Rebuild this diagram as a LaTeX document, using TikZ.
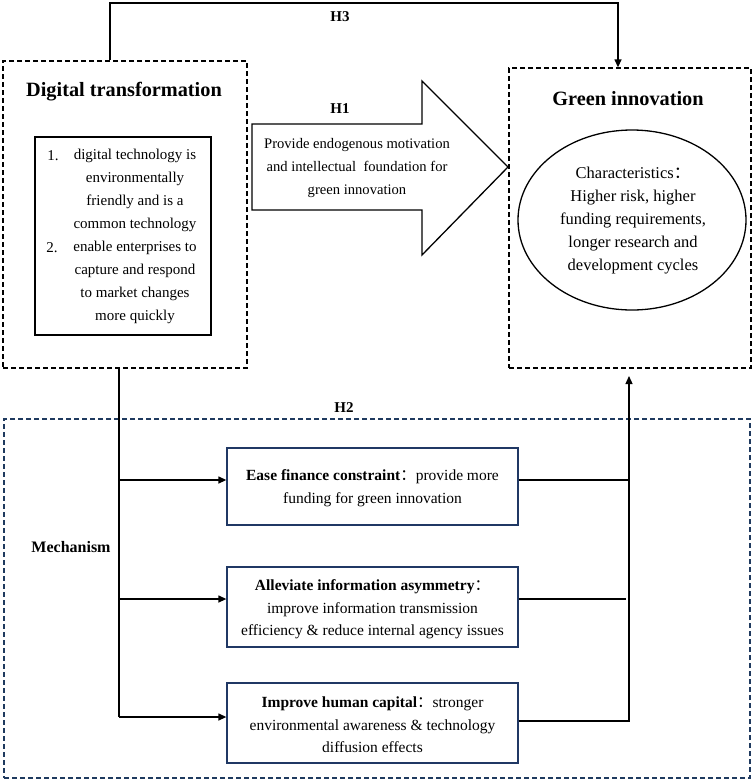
\documentclass[tikz,border=0pt]{standalone}
\usepackage{fontspec}
\setmainfont{Liberation Serif}
\newfontfamily\cjk{Noto Sans CJK SC}
\usetikzlibrary{arrows.meta,shapes.geometric}
\definecolor{navy}{HTML}{203864}
\definecolor{dashnavy}{HTML}{1F3A5F}
\newcommand{\fwc}{{\cjk ：}}
\begin{document}
\begin{tikzpicture}[x=1pt,y=-1pt,
  dashbox/.style={draw, line width=1.3pt, dash pattern=on 5pt off 3pt, inner sep=0pt},
  bluedash/.style={draw=dashnavy, line width=1.3pt, dash pattern=on 5pt off 3pt, inner sep=0pt},
  plainbox/.style={draw, line width=1.3pt, inner sep=0pt},
  mechbox/.style={draw=navy, line width=1.3pt, inner sep=0pt, minimum width=291pt},
  title/.style={font=\fontsize{20.3}{24}\selectfont\bfseries, inner sep=0pt},
  body/.style={font=\fontsize{15}{23}\selectfont, align=center, inner sep=0pt},
  hlabel/.style={font=\fontsize{15}{17}\selectfont\bfseries, inner sep=0pt},
  conn/.style={line width=1.3pt},
  arr/.style={line width=1.3pt, -{Triangle[length=8pt,width=7pt]}}
]
\useasboundingbox (0,0) rectangle (754,782);

% Digital transformation
\node[dashbox, minimum width=244pt, minimum height=307pt] (dt) at (125,214.5) {};
\node[title] (dtt) at (124,92) {Digital transformation};
\node[plainbox, minimum width=176pt, minimum height=198pt] (dti) at (123,236) {};
\node[body] (dtx) at (135,236) {digital technology is\\environmentally\\friendly and is a\\common technology\\enable enterprises to\\capture and respond\\to market changes\\more quickly};
\node[body] (n1) at (53,156) {1.};
\node[body] (n2) at (52,248) {2.};

% Green innovation
\node[dashbox, minimum width=242pt, minimum height=300pt] (gi) at (630,218) {};
\node[title] (git) at (628,99) {Green innovation};
\node[ellipse, draw, line width=1.3pt, minimum width=228pt, minimum height=180pt, inner sep=0pt] (el) at (632,220) {};
\node[body, font=\fontsize{16.5}{23}\selectfont] (elx) at (633,221) {Characteristics\fwc\\Higher risk, higher\\funding requirements,\\longer research and\\development cycles};

% H1 arrow
\draw[line width=1.3pt] (252,124) -- (422,124) -- (422,81) -- (508,167) -- (422,255) -- (422,210) -- (252,210) -- cycle;
\node[body, font=\fontsize{14.6}{23}\selectfont] (h1x) at (357,168) {Provide endogenous motivation\\and intellectual\ \ foundation for\\green innovation};
\node[hlabel] (h1) at (340,109) {H1};

% H3
\node[hlabel] (h3) at (340,17) {H3};
\coordinate (h3a) at (110,3);
\coordinate (h3b) at (618,3);
\draw[arr] (dt.north -| h3a) -- (h3a) -- (h3b) -- (h3b |- gi.north);

% Mechanism
\node[bluedash, minimum width=746pt, minimum height=359pt] (mech) at (377,598.5) {};
\node[hlabel] (h2) at (344,408) {H2};
\node[hlabel, font=\fontsize{16}{18}\selectfont\bfseries] (mlab) at (71,547) {Mechanism};

\node[mechbox, minimum height=77pt] (b1) at (372.5,486.5) {};
\node[body, font=\fontsize{15.5}{22.5}\selectfont] (b1x) at (372.5,488) {\textbf{Ease finance constraint}\fwc provide more\\funding for green innovation};
\node[mechbox, minimum height=80pt] (b2) at (372.5,607) {};
\node[body, font=\fontsize{15.5}{22.5}\selectfont] (b2x) at (372.5,609.5) {\textbf{Alleviate information asymmetry}\fwc\\improve information transmission\\efficiency \& reduce internal agency issues};
\node[mechbox, minimum height=80pt] (b3) at (372.5,723) {};
\node[body, font=\fontsize{15.5}{22.5}\selectfont] (b3x) at (372.5,725) {\textbf{Improve human capital}\fwc stronger\\environmental awareness \& technology\\diffusion effects};

\coordinate (la) at (119,480);
\coordinate (lb) at (119,599);
\coordinate (lc) at (119,717);
\draw[conn] (dt.south -| la) -- (lc);
\draw[arr] (la) -- (la -| b1.west);
\draw[arr] (lb) -- (lb -| b2.west);
\draw[arr] (lc) -- (lc -| b3.west);

\coordinate (ra) at (629,480);
\coordinate (rb) at (626,599);
\coordinate (rc) at (629,721);
\coordinate (rt) at (629,376);
\draw[conn] (ra -| b1.east) -- (ra);
\draw[conn] (rb -| b2.east) -- (rb);
\draw[arr] (rc -| b3.east) -- (rc) -- (rt);
\end{tikzpicture}
\end{document}
